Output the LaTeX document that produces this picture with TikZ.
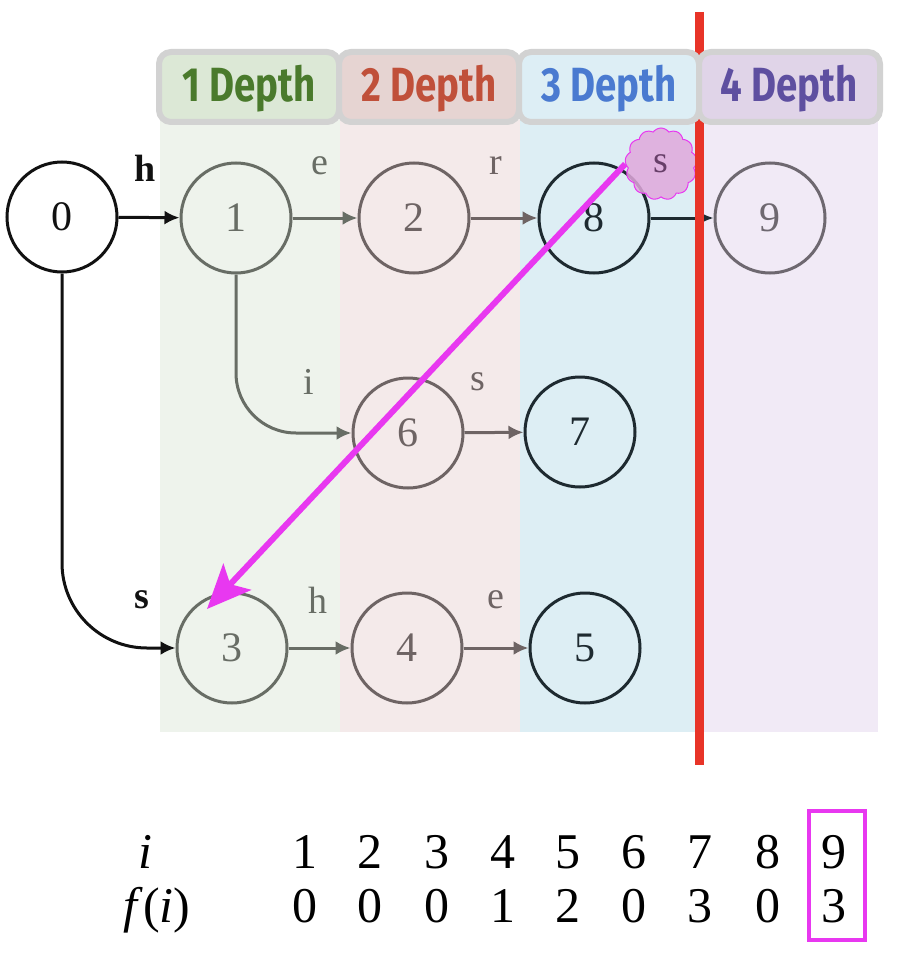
\documentclass[tikz,border=0pt]{standalone}
\usepackage{fontspec}
\setmainfont{Liberation Serif}
\newfontfamily\hdrfont{Fira Sans}[FakeStretch=0.8]
\usetikzlibrary{shapes.symbols,arrows.meta}
\definecolor{bgA}{HTML}{EEF3EC}
\definecolor{bgB}{HTML}{F4EAEA}
\definecolor{bgC}{HTML}{DDEEF4}
\definecolor{bgD}{HTML}{F1EAF6}
\definecolor{hA}{HTML}{DCE8D6}
\definecolor{hB}{HTML}{E6D4D2}
\definecolor{hC}{HTML}{DDEEF5}
\definecolor{hD}{HTML}{E0D4E8}
\definecolor{tA}{HTML}{4A7A2C}
\definecolor{tB}{HTML}{C0503A}
\definecolor{tC}{HTML}{4A7AD0}
\definecolor{tD}{HTML}{5E4FA0}
\definecolor{hborder}{HTML}{D2D2D2}
\definecolor{cK}{HTML}{111111}
\definecolor{cG}{HTML}{686D65}
\definecolor{cR}{HTML}{6E6464}
\definecolor{cD}{HTML}{1E2A30}
\definecolor{cP}{HTML}{6E6870}
\definecolor{mag}{HTML}{E838F0}
\definecolor{cloudfill}{HTML}{E0A8DC}
\definecolor{redline}{HTML}{E83428}
\tikzset{
  st/.style={circle, line width=3pt, minimum size=110pt, inner sep=0pt, font=\fontsize{42}{46}\selectfont},
  lbl/.style={font=\fontsize{38}{42}\selectfont, inner sep=0pt},
  edge/.style={line width=3pt, -{Latex[length=15pt,width=14pt]}},
  hdr/.style={draw=hborder, line width=6pt, rounded corners=12pt},
  hdrtext/.style={font=\hdrfont\bfseries\fontsize{48}{52}\selectfont, inner sep=0pt},
  tab/.style={font=\fontsize{50}{54}\selectfont, inner sep=0pt, anchor=base},
}
\begin{document}
\begin{tikzpicture}[x=1pt,y=-1pt]
\useasboundingbox (0,0) rectangle (898,960);
% column backgrounds
\fill[bgA] (160,120) rectangle (340,732);
\fill[bgB] (340,120) rectangle (520,732);
\fill[bgC] (520,120) rectangle (697,732);
\fill[bgD] (697,120) rectangle (878,732);
% nodes
\node[st, draw=cK, text=cK] (n0) at (62,217) {0};
\node[st, draw=cG, text=cG] (n1) at (236,218) {1};
\node[st, draw=cR, text=cR] (n2) at (414,218) {2};
\node[st, draw=cD, text=cD] (n8) at (594,218) {8};
\node[st, draw=cP, text=cP] (n9) at (770,218) {9};
\node[st, draw=cR, text=cR] (n6) at (408,433) {6};
\node[st, draw=cD, text=cD] (n7) at (580,432) {7};
\node[st, draw=cG, text=cG] (n3) at (232,648) {3};
\node[st, draw=cR, text=cR] (n4) at (407,648) {4};
\node[st, draw=cD, text=cD] (n5) at (585,648) {5};
% edges
\draw[edge, cK] (n0) -- (n1);
\draw[edge, cG] (n1) -- (n2);
\draw[edge, cR] (n2) -- (n8);
\draw[edge, cD] (n8) -- (n9);
\draw[edge, cG, rounded corners=60pt] (n1.south) |- (n6.west);
\draw[edge, cR] (n6) -- (n7);
\draw[edge, cK, rounded corners=85pt] (n0.south) |- (n3.west);
\draw[edge, cG] (n3) -- (n4);
\draw[edge, cR] (n4) -- (n5);
% edge labels
\node[lbl, text=cK, font=\bfseries\fontsize{38}{42}\selectfont] (lh) at (145,168) {h};
\node[lbl, text=cG] (le) at (320,166) {e};
\node[lbl, text=cR] (lr) at (496,166) {r};
\node[lbl, text=cG] (li) at (309,382) {i};
\node[lbl, text=cR] (ls2) at (478,382) {s};
\node[lbl, text=cK, font=\bfseries\fontsize{38}{42}\selectfont] (ls1) at (142,600) {s};
\node[lbl, text=cG] (lh2) at (318,600) {h};
\node[lbl, text=cR] (le2) at (496,600) {e};
% cloud with s
\node[cloud, cloud puffs=13, cloud puff arc=110, aspect=1, draw=mag, line width=1pt,
      fill=cloudfill, fill opacity=0.85, minimum width=72pt, minimum height=72pt] (cl) at (661,164) {};
\node[lbl, text=cP!70!mag!70!black] (ls3) at (cl.center) {s};
% red line
\coordinate (rtop) at (699,12);
\coordinate (rbot) at (699,765);
\draw[redline, line width=9pt] (rtop) -- (rbot);
% headers
\draw[hdr, fill=hA] (159,52) rectangle (339,122);
\draw[hdr, fill=hB] (339,52) rectangle (519,122);
\draw[hdr, fill=hC] (519,52) rectangle (699,122);
\draw[hdr, fill=hD] (699,52) rectangle (880,122);
\node[hdrtext, text=tA] (h1) at (249,89) {1 Depth};
\node[hdrtext, text=tB] (h2) at (429,89) {2 Depth};
\node[hdrtext, text=tC] (h3) at (609,89) {3 Depth};
\node[hdrtext, text=tD] (h4) at (789,89) {4 Depth};
% magenta arrow
\coordinate (tip) at (207,609);
\draw[mag, line width=6pt, -{Stealth[length=44pt,width=38pt,inset=10pt]}] (cl.west) -- (tip);
% table
\node[tab] (ti) at (145,868) {\textit{i}};
\node[tab] (tf) at (157,922) {\textit{f}(\textit{i})};
\foreach \x/\a/\b [count=\k] in {305/1/0,370/2/0,437/3/0,503/4/1,568/5/2,634/6/0,700/7/3,768/8/0,834/9/3}{
  \node[tab] (a\k) at (\x,868) {\a};
  \node[tab] (b\k) at (\x,922) {\b};
}
\draw[mag, line width=4pt] (809,811) rectangle (865,940);
\end{tikzpicture}
\end{document}
